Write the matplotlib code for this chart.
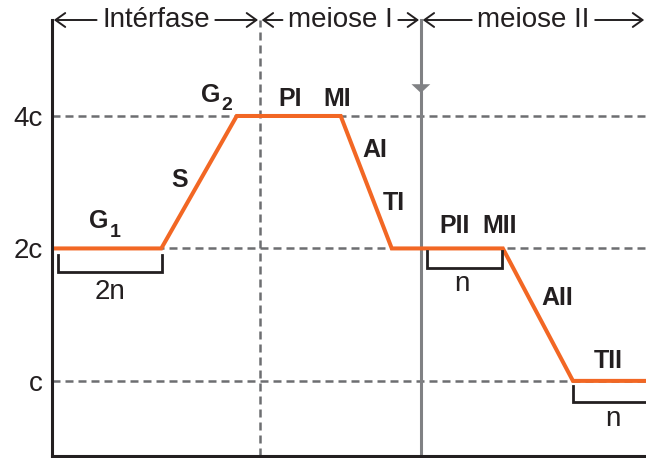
import matplotlib
matplotlib.use('Agg')
import matplotlib.pyplot as plt
from matplotlib.ticker import NullLocator, FixedLocator, FixedFormatter
import numpy as np

plt.rcParams['font.family'] = ['Liberation Sans', 'DejaVu Sans']

# ---------------- data ----------------
time = [0, 18.4, 31.1, 48.6, 57.2, 75.9, 87.7, 100]
dna = [2, 2, 4, 4, 2, 2, 1, 1]

dna_levels = [1, 2, 4]
dna_tick_labels = ['c', '2c', '4c']

periods = ['Intérfase', 'meiose I', 'meiose II']
period_bounds = [0, 35.0, 62.1, 100]

gap_labels = ['G', 'G']
gap_subscripts = ['1', '2']
gap_x = [6.3, 25.15]
gap_y = [2.225, 4.30]

stage_labels = ['S', 'PI', 'MI', 'AI', 'TI', 'PII', 'MII', 'AII', 'TII']
stage_x = [21.5, 40.1, 48.0, 54.3, 57.6, 67.8, 75.4, 85.1, 93.6]
stage_y = [2.76, 4.215, 4.215, 3.23, 2.45, 2.17, 2.17, 1.49, 1.07]

ploidy_labels = ['2n', 'n', 'n']
ploidy_start = [1.0, 63.1, 87.7]
ploidy_end = [18.5, 75.8, 100]
ploidy_level = [2, 2, 1]
ploidy_label_x = [9.8, 69.0, 94.4]

# ---------------- style ----------------
ORANGE = '#F26724'
GRAY = '#6D6E71'
GRAY2 = '#808184'
BLACK = '#231F20'

W, H = 646, 458
fig = plt.figure(figsize=(W / 100, H / 100), dpi=100)
ax = fig.add_axes([52 / W, 2 / H, 594 / W, 436 / H])

ax.set_yscale('log', base=2)
ylo, yhi = 0.675, 6.61
ax.set_ylim(ylo, yhi)
ax.set_xlim(period_bounds[0], period_bounds[-1])
ppo = 436 / np.log2(yhi / ylo)  # pixels per octave


def below(level, px):
    return level * 2 ** (-px / ppo)


trans = ax.get_xaxis_transform()

# grid lines
for lv in dna_levels:
    ax.plot([period_bounds[0], period_bounds[-1]], [lv, lv], color=GRAY, lw=1.8,
            dashes=(3.2, 2.0), zorder=1, clip_on=False)
ax.plot([period_bounds[1]] * 2, [0, 1], transform=trans,
        color=GRAY, lw=1.8, dashes=(3.2, 2.0), zorder=1, clip_on=False)

# solid boundary between meiosis I and II with arrowhead
xb = period_bounds[2]
ax.plot([xb, xb], [0, 1], transform=trans, color=GRAY2,
        lw=2.2, zorder=2, clip_on=False)
ax.annotate('', xy=(xb, 0.8326), xytext=(xb, 0.93), xycoords=trans, textcoords=trans,
            arrowprops=dict(arrowstyle='-|>,head_length=0.42,head_width=0.45',
                            color=GRAY2, lw=0.01, mutation_scale=15,
                            shrinkA=0, shrinkB=0),
            annotation_clip=False, zorder=3)

# DNA curve
ax.plot(time, dna, color=ORANGE, lw=2.9, zorder=4, solid_joinstyle='miter',
        solid_capstyle='butt', clip_on=False)

# spines / ticks
for s in ['top', 'right']:
    ax.spines[s].set_visible(False)
for s in ['left', 'bottom']:
    ax.spines[s].set_color(BLACK)
    ax.spines[s].set_linewidth(2.2)
    ax.spines[s].set_zorder(5)
ax.yaxis.set_minor_locator(NullLocator())
ax.yaxis.set_major_locator(FixedLocator(dna_levels))
ax.yaxis.set_major_formatter(FixedFormatter(dna_tick_labels))
ax.tick_params(axis='y', length=0, pad=6.5, labelsize=20, labelcolor=BLACK)
ax.set_xticks([])

# G1 / G2 labels with subscripts
sub_drop = [6.5, 5.8]  # points
for lab, sub, x, y, d in zip(gap_labels, gap_subscripts, gap_x, gap_y, sub_drop):
    ax.text(x, y, lab, fontsize=18, fontweight='bold', color=BLACK,
            ha='left', va='baseline', zorder=6)
    ax.annotate(sub, xy=(x, y), xytext=(14.3, -d), textcoords='offset points',
                fontsize=14, fontweight='bold', color=BLACK, ha='left', va='baseline',
                zorder=6)

# stage labels
for lab, x, y in zip(stage_labels, stage_x, stage_y):
    ax.text(x, y, lab, fontsize=18, fontweight='bold', color=BLACK,
            ha='center', va='baseline', zorder=6)

# ploidy brackets
tops = [7, 3, 5]
bots = [24, 20, 21]
lab_off = [51, 43, 45]
for i, (lab, x0, x1, lv, lx) in enumerate(zip(ploidy_labels, ploidy_start, ploidy_end,
                                               ploidy_level, ploidy_label_x)):
    yt, yb = below(lv, tops[i]), below(lv, bots[i])
    xs = [x0, x0, x1]
    ys = [yt, yb, yb]
    if x1 < period_bounds[-1]:
        xs.append(x1)
        ys.append(yt)
    ax.plot(xs, ys, color=BLACK, lw=2.0, solid_joinstyle='miter', zorder=5, clip_on=False)
    ax.text(lx, below(lv, lab_off[i]), lab, fontsize=20, color=BLACK,
            ha='center', va='baseline')

# period labels with arrows
texts = []
for name, a, b in zip(periods, period_bounds[:-1], period_bounds[1:]):
    t = ax.text((a + b) / 2, 0.984, name, transform=trans, fontsize=20, color=BLACK,
                ha='center', va='baseline')
    texts.append(t)

fig.canvas.draw()
r = fig.canvas.get_renderer()
inv = ax.transData.inverted()
for t, a, b in zip(texts, period_bounds[:-1], period_bounds[1:]):
    bb = t.get_window_extent(r)
    xl = inv.transform((bb.x0, 0))[0]
    xr = inv.transform((bb.x1, 0))[0]
    props = dict(arrowstyle='->,head_length=0.35,head_width=0.25', color=BLACK,
                 lw=1.4, mutation_scale=20, shrinkA=4, shrinkB=1.3)
    ax.annotate('', xy=(a, 1.0), xytext=(xl, 1.0), xycoords=trans, textcoords=trans,
                arrowprops=props, annotation_clip=False)
    ax.annotate('', xy=(b, 1.0), xytext=(xr, 1.0), xycoords=trans, textcoords=trans,
                arrowprops=props, annotation_clip=False)

fig.savefig('out.png', dpi=100)
